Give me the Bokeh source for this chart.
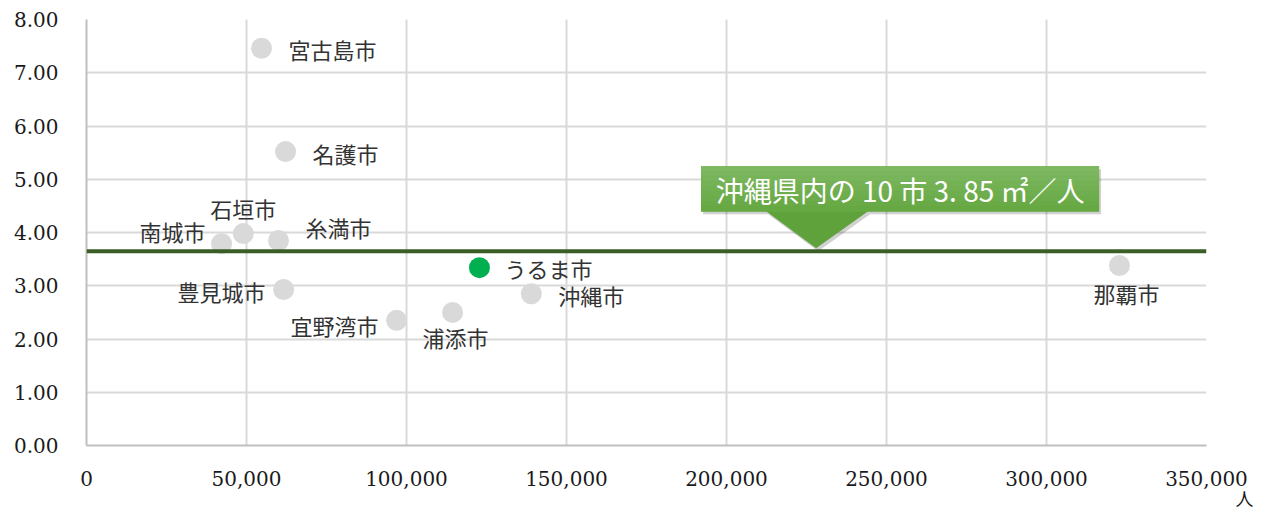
from bokeh.plotting import figure
from bokeh.models import (ColumnDataSource, FixedTicker, NumeralTickFormatter,
                          Span, Label, Range1d, Title)
from bokeh.embed import file_html
from bokeh.resources import INLINE

# ---- data ----
cities = ["宮古島市", "名護市", "石垣市", "南城市", "糸満市", "豊見城市",
          "宜野湾市", "浦添市", "うるま市", "沖縄市", "那覇市"]
population = [54700, 62200, 49000, 42200, 60000, 61600,
              96900, 114400, 122800, 139000, 322800]
area_per_person = [7.46, 5.52, 3.98, 3.79, 3.85, 2.93,
                   2.35, 2.50, 3.34, 2.85, 3.38]
highlight = "うるま市"
average_line = 3.65
callout_text = "沖縄県内の 10 市 3. 85 ㎡／人"
callout_x = 228000
x_ticks = [0, 50000, 100000, 150000, 200000, 250000, 300000, 350000]
y_ticks = [0, 1, 2, 3, 4, 5, 6, 7, 8]
x_unit = "人"

# ---- label styling (screen offsets) ----
label_dx = [27, 27, 0, -16, 27, -18, -18, 3, 25, 27, 7]
label_dy = [1, 1, -26, -13, -13, 2, 5, 25, 0, 1, 27]
label_align = ["left", "left", "center", "right", "left", "right",
               "right", "center", "left", "left", "center"]

SERIF = "DejaVu Serif"
JP = "Noto Sans CJK JP"

W, H = 1266, 510
L, R, T, B = 86, 60, 19, 65
frame_w, frame_h = W - L - R, H - T - B

p = figure(width=W, height=H, output_backend="svg", toolbar_location=None,
           x_range=Range1d(0, 350000), y_range=Range1d(0, 8),
           min_border_left=L, min_border_right=R, min_border_top=T,
           min_border_bottom=B)
p.outline_line_color = None
p.background_fill_color = "white"
p.border_fill_color = "white"

for ax in (p.xaxis[0], p.yaxis[0]):
    ax.axis_line_color = "#bfbfbf"
    ax.axis_line_width = 2
    ax.major_tick_line_color = None
    ax.minor_tick_line_color = None
    ax.major_tick_out = 0
    ax.minor_tick_out = 0
    ax.major_label_text_font = SERIF
    ax.major_label_text_font_size = "20px"
    ax.major_label_text_color = "#1a1a1a"

p.xaxis[0].ticker = FixedTicker(ticks=x_ticks)
p.xaxis[0].formatter = NumeralTickFormatter(format="0,0")
p.xaxis[0].major_label_standoff = 25
p.yaxis[0].ticker = FixedTicker(ticks=y_ticks)
p.yaxis[0].formatter = NumeralTickFormatter(format="0.00")
p.yaxis[0].major_label_standoff = 28

p.xgrid[0].grid_line_color = "#d9d9d9"
p.xgrid[0].grid_line_width = 2
p.ygrid[0].grid_line_color = "#d9d9d9"
p.ygrid[0].grid_line_width = 2

# average line
p.add_layout(Span(location=average_line, dimension="width",
                  line_color="#3b5e25", line_width=4))

# points
colors = ["#00b050" if c == highlight else "#d9d9d9" for c in cities]
src = ColumnDataSource(dict(x=population, y=area_per_person, name=cities,
                            color=colors, dx=label_dx, dy=label_dy,
                            align=label_align))
order = sorted(range(len(cities)), key=lambda i: cities[i] == highlight)
src_sorted = ColumnDataSource({k: [v[i] for i in order] for k, v in src.data.items()})
p.scatter("x", "y", source=src_sorted, size=21, fill_color="color",
          line_color=None)
p.text("x", "y", text="name", source=src, x_offset="dx", y_offset="dy",
       text_align="align", text_baseline="middle",
       text_font_size="22px", text_color="#333333",
       text_font={"value": JP})

# callout shape (pixel offsets relative to tip -> data units)
px_x = 350000 / frame_w
px_y = 8 / frame_h
shape = [(0, 3), (52, 40), (283, 40), (283, 85), (-115, 85), (-115, 40), (-50, 40)]
sx = [callout_x + a * px_x for a, b in shape]
sy = [average_line + b * px_y for a, b in shape]
shx = [v + 2 * px_x for v in sx]
shy = [v - 3 * px_y for v in sy]
p.patch(shx, shy, fill_color="#000000", fill_alpha=0.18, line_color=None)
p.patch(sx, sy, fill_color="#5fa23b", line_color=None)
top_c = (0x7e, 0xb9, 0x62)
bot_c = (0x66, 0xa8, 0x42)
nb = 9
for k in range(nb):
    t = k / (nb - 1)
    c = tuple(int(top_c[j] + (bot_c[j] - top_c[j]) * t) for j in range(3))
    y_hi = 85 - k * 45 / nb
    y_lo = 85 - (k + 1) * 45 / nb - 0.5
    p.quad(left=callout_x - 115 * px_x, right=callout_x + 283 * px_x,
           top=average_line + y_hi * px_y, bottom=average_line + y_lo * px_y,
           fill_color="#%02x%02x%02x" % c, line_color=None)

p.add_layout(Label(x=callout_x, y=average_line, x_offset=84, y_offset=61,
                   text=callout_text, text_color="white",
                   text_font=JP, text_font_size="28px",
                   text_align="center", text_baseline="middle"))

# unit label under the x axis (title panel so it is not clipped by the frame)
p.add_layout(Title(text=x_unit, align="right", offset=-47, standoff=-12,
                   text_font=JP, text_font_size="18px",
                   text_font_style="normal", text_color="#1a1a1a"), "below")

open("out.html", "w").write(file_html(p, INLINE))
